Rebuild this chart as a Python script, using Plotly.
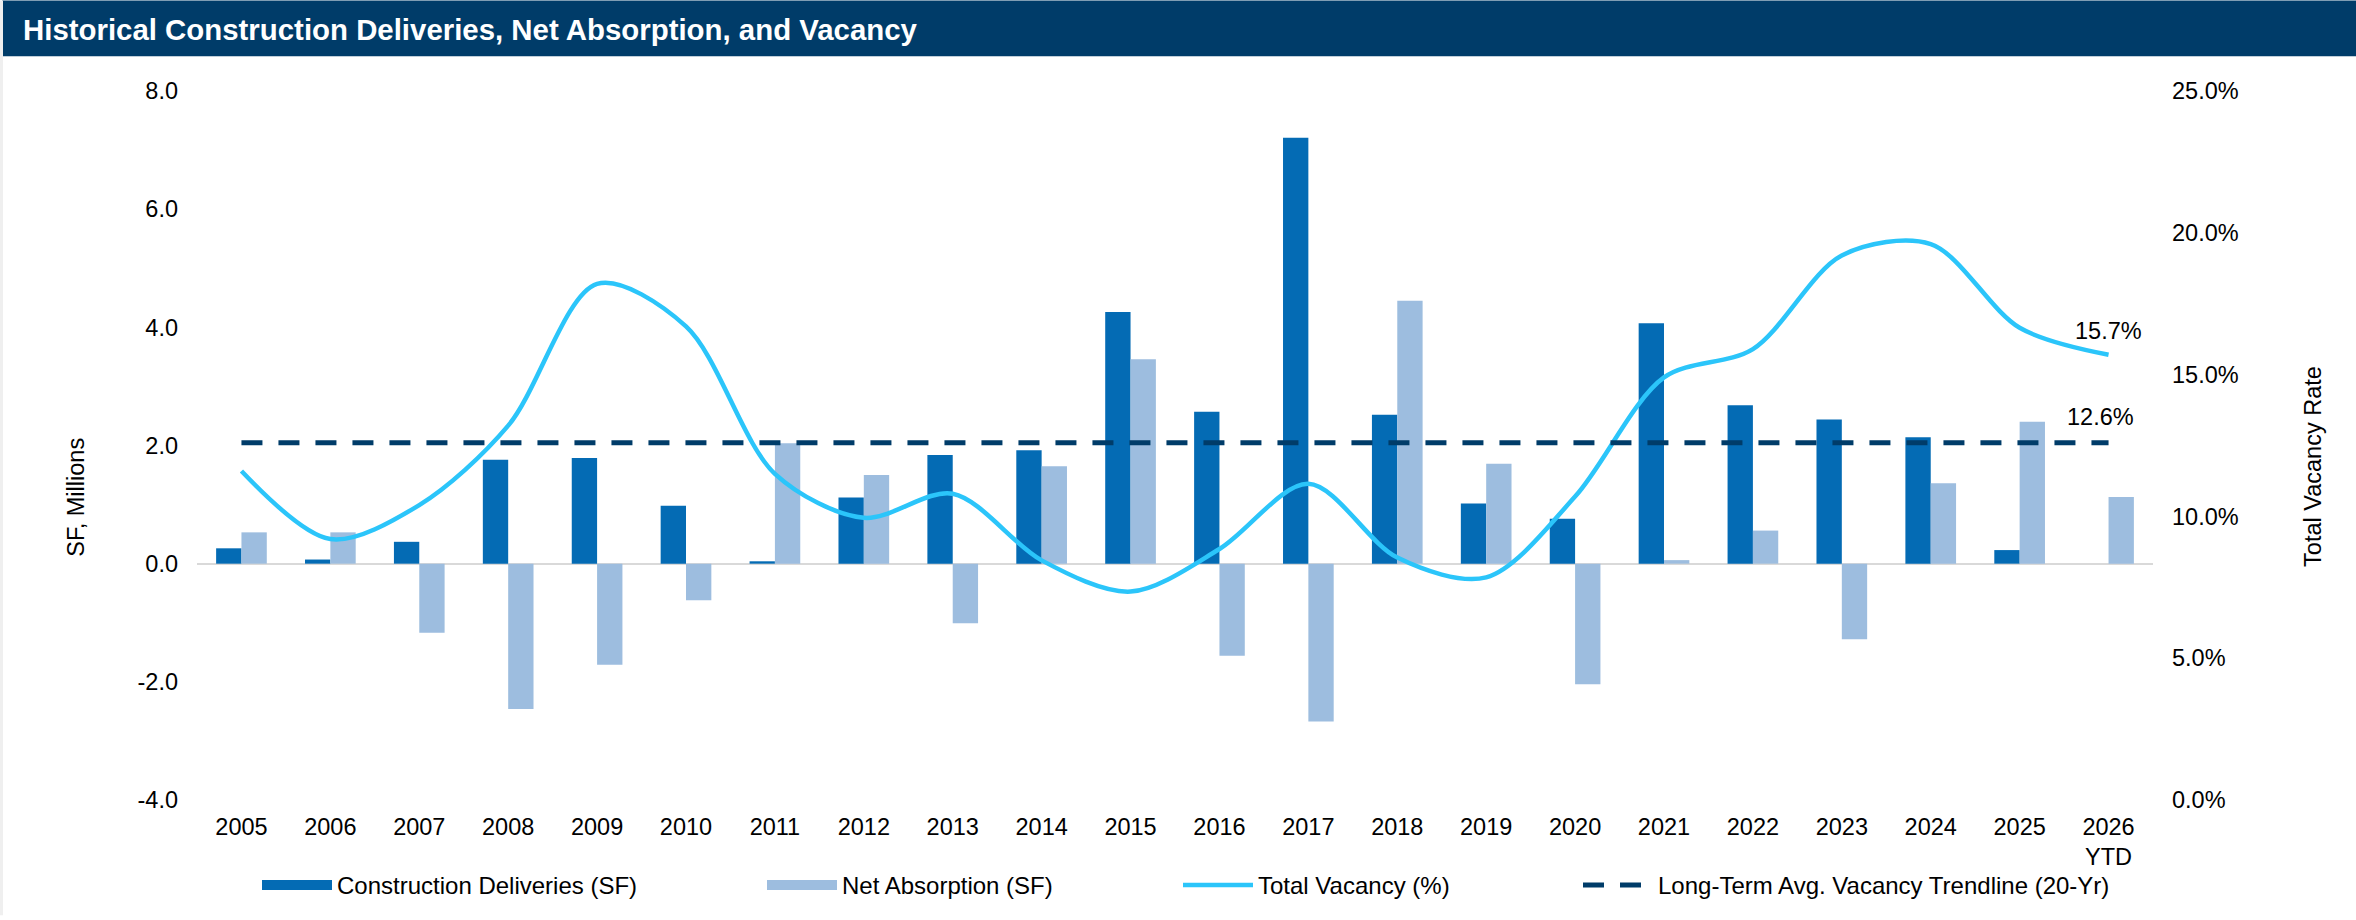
import plotly.graph_objects as go

# ---------------- data ----------------
years = ["2005", "2006", "2007", "2008", "2009", "2010", "2011", "2012", "2013", "2014",
         "2015", "2016", "2017", "2018", "2019", "2020", "2021", "2022", "2023", "2024",
         "2025", "2026 YTD"]
year_labels = ["2005", "2006", "2007", "2008", "2009", "2010", "2011", "2012", "2013", "2014",
               "2015", "2016", "2017", "2018", "2019", "2020", "2021", "2022", "2023", "2024",
               "2025", "2026<br>YTD"]
deliveries = [0.26, 0.07, 0.37, 1.76, 1.79, 0.98, 0.04, 1.12, 1.84, 1.92,
              4.26, 2.57, 7.21, 2.52, 1.02, 0.76, 4.07, 2.68, 2.44, 2.14,
              0.23, 0.0]
absorption = [0.53, 0.53, -1.17, -2.46, -1.71, -0.62, 2.04, 1.50, -1.01, 1.65,
              3.46, -1.56, -2.67, 4.45, 1.69, -2.04, 0.06, 0.56, -1.28, 1.36,
              2.40, 1.13]
vacancy = [11.6, 9.2, 10.4, 13.2, 18.2, 16.7, 11.5, 9.95, 10.8, 8.45,
           7.35, 8.85, 11.15, 8.55, 7.85, 10.7, 14.9, 15.9, 19.2, 19.6,
           16.65, 15.7]
trend = [12.6, 12.6, 12.6, 12.6, 12.6, 12.6, 12.6, 12.6, 12.6, 12.6,
         12.6, 12.6, 12.6, 12.6, 12.6, 12.6, 12.6, 12.6, 12.6, 12.6,
         12.6, 12.6]
left_ticks = [-4, -2, 0, 2, 4, 6, 8]
left_tick_text = ["-4.0", "-2.0", "0.0", "2.0", "4.0", "6.0", "8.0"]
right_ticks = [0, 5, 10, 15, 20, 25]
right_tick_text = ["0.0%", "5.0%", "10.0%", "15.0%", "20.0%", "25.0%"]

# ---------------- style ----------------
FONT = "Liberation Sans, Arial, sans-serif"
C_DELIV = "#046BB4"
C_ABS = "#9DBDDF"
C_VAC = "#2BC5FA"
C_TREND = "#003C69"
W, H = 2356, 920
ML, MR, MT, MB = 197, 203, 91, 116
PW = W - ML - MR
PH = H - MT - MB
TICK_SIZE = 23.5


def px_x(px):
    return (px - ML) / PW


def px_y(py):
    return (H - MB - py) / PH


fig = go.Figure()
fig.add_trace(go.Bar(x=years, y=deliveries, name="Construction Deliveries (SF)",
                     marker=dict(color=C_DELIV, line=dict(width=0)), yaxis="y",
                     showlegend=False))
fig.add_trace(go.Bar(x=years, y=absorption, name="Net Absorption (SF)",
                     marker=dict(color=C_ABS, line=dict(width=0)), yaxis="y",
                     showlegend=False))
fig.add_trace(go.Scatter(x=years, y=vacancy, name="Total Vacancy (%)", mode="lines",
                         line=dict(color=C_VAC, width=4.5, shape="spline", smoothing=0.9),
                         yaxis="y2", legend="legend3"))
fig.add_trace(go.Scatter(x=years, y=trend, name="Long-Term Avg. Vacancy Trendline (20-Yr)",
                         mode="lines", line=dict(color=C_TREND, width=5, dash="21px,16px"),
                         yaxis="y2", legend="legend4"))
# legend swatches for the bar series (wide rectangles as in the reference)
fig.add_trace(go.Scatter(x=[None], y=[None], name="Construction Deliveries (SF)", mode="lines",
                         line=dict(color=C_DELIV, width=12), legend="legend",
                         hoverinfo="skip"))
fig.add_trace(go.Scatter(x=[None], y=[None], name="Net Absorption (SF)", mode="lines",
                         line=dict(color=C_ABS, width=12), legend="legend2",
                         hoverinfo="skip"))

legend_common = dict(orientation="h", yanchor="middle", xanchor="left",
                     font=dict(family=FONT, size=24, color="#000000"),
                     bgcolor="rgba(0,0,0,0)", borderwidth=0, itemwidth=70)
ly = px_y(890)

fig.update_layout(
    width=W, height=H,
    margin=dict(l=ML, r=MR, t=MT, b=MB, pad=0),
    paper_bgcolor="white", plot_bgcolor="white",
    font=dict(family=FONT, size=TICK_SIZE, color="#000000"),
    barmode="group", bargap=0.43, bargroupgap=0,
    showlegend=True,
    legend=dict(x=px_x(257), y=ly, **legend_common),
    legend2=dict(x=px_x(762), y=ly, **legend_common),
    legend3=dict(x=px_x(1178), y=ly, **legend_common),
    legend4=dict(x=px_x(1578), y=ly, **legend_common),
    xaxis=dict(type="category", tickvals=years, ticktext=year_labels,
               showgrid=False, showline=False, zeroline=False, ticks="",
               tickfont=dict(family=FONT, size=TICK_SIZE, color="#000000"),
               ticklabelstandoff=10),
    yaxis=dict(range=[-4, 8], tickvals=left_ticks, ticktext=left_tick_text,
               showgrid=False, showline=False, ticks="",
               zeroline=True, zerolinecolor="#D9D9D9", zerolinewidth=2,
               tickfont=dict(family=FONT, size=TICK_SIZE, color="#000000"),
               ticklabelstandoff=18),
    yaxis2=dict(range=[0, 25], tickvals=right_ticks, ticktext=right_tick_text,
                overlaying="y", side="right", showgrid=False, showline=False,
                zeroline=False, ticks="",
                tickfont=dict(family=FONT, size=TICK_SIZE, color="#000000"),
                ticklabelstandoff=18),
    hovermode=False,
)

# title bar
fig.add_shape(type="rect", xref="paper", yref="paper",
              x0=px_x(2), x1=px_x(W), y0=px_y(56), y1=px_y(0),
              fillcolor="#003C69", line=dict(width=0), layer="below")
# thin grey frame at left edge
fig.add_shape(type="rect", xref="paper", yref="paper",
              x0=px_x(0), x1=px_x(3), y0=px_y(H), y1=px_y(0),
              fillcolor="#EFEFEF", line=dict(width=0), layer="below")

fig.add_annotation(text="<b>Historical Construction Deliveries, Net Absorption, and Vacancy</b>",
                   xref="paper", yref="paper", x=px_x(21), y=px_y(29),
                   xanchor="left", yanchor="middle", showarrow=False,
                   font=dict(family=FONT, size=29.4, color="white"))

# axis titles
fig.add_annotation(text="SF, Millions", xref="paper", yref="paper",
                   x=px_x(76), y=px_y(500), textangle=-90, showarrow=False,
                   xanchor="center", yanchor="middle",
                   font=dict(family=FONT, size=TICK_SIZE, color="#000000"))
fig.add_annotation(text="Total Vacancy Rate", xref="paper", yref="paper",
                   x=px_x(2313), y=px_y(469), textangle=-90, showarrow=False,
                   xanchor="center", yanchor="middle",
                   font=dict(family=FONT, size=TICK_SIZE, color="#000000"))

# end labels
fig.add_annotation(text=f"{vacancy[-1]:.1f}%", x=years[-1], y=vacancy[-1], xref="x", yref="y2",
                   showarrow=False, yshift=24, xanchor="center", yanchor="middle",
                   font=dict(family=FONT, size=TICK_SIZE, color="#000000"))
fig.add_annotation(text=f"{trend[-1]:.1f}%", x=years[-1], y=trend[-1], xref="x", yref="y2",
                   showarrow=False, yshift=26, xshift=-8, xanchor="center", yanchor="middle",
                   font=dict(family=FONT, size=TICK_SIZE, color="#000000"))

fig.write_html("out.html", config={"displayModeBar": False},
               post_script="document.body.style.margin='0';")
